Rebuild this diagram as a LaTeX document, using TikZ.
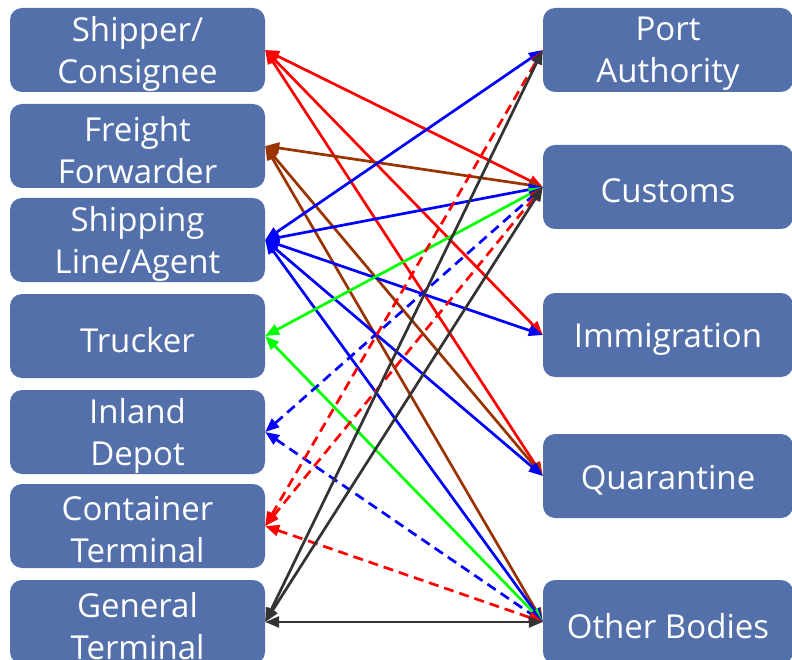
\documentclass[tikz,border=0pt]{standalone}
\usepackage{fontspec}
\setmainfont{Open Sans}
\usetikzlibrary{arrows.meta}
\definecolor{boxblue}{RGB}{84,112,171}
\definecolor{brn}{RGB}{153,51,0}
\definecolor{dgray}{RGB}{51,51,51}
\definecolor{grn}{RGB}{0,255,0}
\begin{document}
\begin{tikzpicture}[x=1pt,y=-1pt,
  box/.style={fill=boxblue, rounded corners=12pt, minimum height=84pt, inner sep=0pt},
  lbox/.style={box, minimum width=255pt},
  rbox/.style={box, minimum width=250pt},
  lbl/.style={text=white, align=center, font=\fontsize{33}{42}\selectfont, inner sep=0pt, yshift=-4pt},
  link/.style={line width=2.7pt, {Triangle[length=14pt,width=11pt]}-{Triangle[length=14pt,width=11pt]}},
  dsh/.style={dash pattern=on 10pt off 6pt}]
\useasboundingbox (0,0) rectangle (792,660);
\clip (0,0) rectangle (792,660);
% left column
\node[lbox] (ship) at (137.5,50) {};
\node[lbox] (ff) at (137.5,146) {};
\node[lbox] (sl) at (137.5,240) {};
\node[lbox] (tr) at (137.5,336) {};
\node[lbox] (id) at (137.5,432) {};
\node[lbox] (ct) at (137.5,526) {};
\node[lbox] (gt) at (137.5,622) {};
% right column
\node[rbox] (pa) at (668,50) {};
\node[rbox] (cu) at (668,187) {};
\node[rbox] (im) at (668,335) {};
\node[rbox] (qu) at (668,476) {};
\node[rbox] (ob) at (668,622) {};
% labels
\node[lbl] (ship-t) at (ship.center) {Shipper/\\Consignee};
\node[lbl] (ff-t) at (ff.center) {Freight\\Forwarder};
\node[lbl] (sl-t) at (sl.center) {Shipping\\Line/Agent};
\node[lbl] (tr-t) at (tr.center) {Trucker};
\node[lbl] (id-t) at (id.center) {Inland\\Depot};
\node[lbl] (ct-t) at (ct.center) {Container\\Terminal};
\node[lbl] (gt-t) at (gt.center) {General\\Terminal};
\node[lbl] (pa-t) at (pa.center) {Port\\Authority};
\node[lbl] (cu-t) at (cu.center) {Customs};
\node[lbl] (im-t) at (im.center) {Immigration};
\node[lbl] (qu-t) at (qu.center) {Quarantine};
\node[lbl] (ob-t) at (ob.center) {Other Bodies};
% red: shipper
\draw[link,red] (ship.east) -- (cu.west);
\draw[link,red] (ship.east) -- (im.west);
\draw[link,red] (ship.east) -- (qu.west);
% brown: freight forwarder
\draw[link,brn] (ff.east) -- (cu.west);
\draw[link,brn] (ff.east) -- (qu.west);
\draw[link,brn] (ff.east) -- (ob.west);
% blue: shipping line
\draw[link,blue] (sl.east) -- (pa.west);
\draw[link,blue] (sl.east) -- (cu.west);
\draw[link,blue] (sl.east) -- (im.west);
\draw[link,blue] (sl.east) -- (qu.west);
\draw[link,blue] (sl.east) -- (ob.west);
% green: trucker
\draw[link,grn] (tr.east) -- (cu.west);
\draw[link,grn] (tr.east) -- (ob.west);
% blue dashed: inland depot
\draw[link,blue,dsh] (id.east) -- (cu.west);
\draw[link,blue,dsh] (id.east) -- (ob.west);
% red dashed: container terminal
\draw[link,red,dsh] (ct.east) -- (pa.west);
\draw[link,red,dsh] (ct.east) -- (cu.west);
\draw[link,red,dsh] (ct.east) -- (ob.west);
% dark gray: general terminal
\draw[link,dgray] (gt.east) -- (pa.west);
\draw[link,dgray] (gt.east) -- (cu.west);
\draw[link,dgray] (gt.east) -- (ob.west);
\end{tikzpicture}
\end{document}
